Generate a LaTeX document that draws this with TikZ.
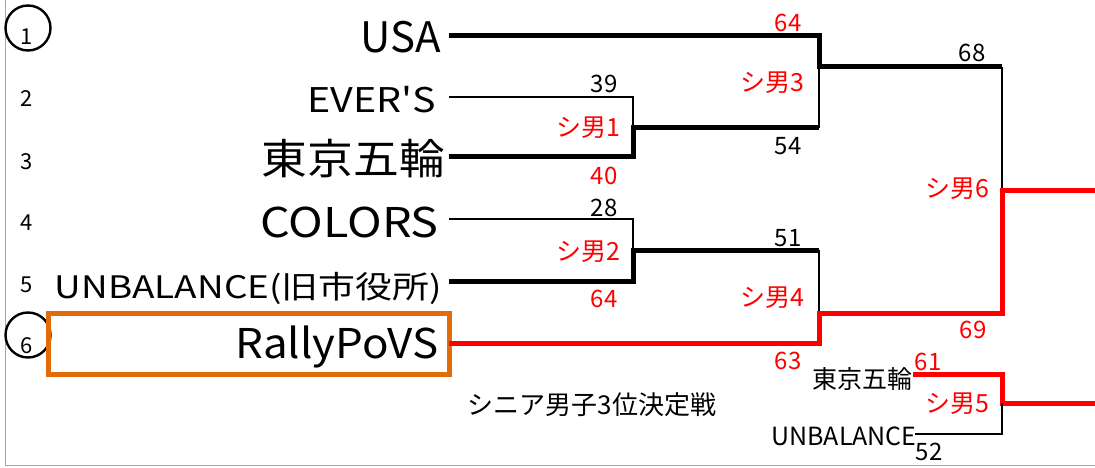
\documentclass[tikz,border=0pt]{standalone}
\usepackage{fontspec}
\usepackage{xcolor}
\usepackage{graphicx}
\usepackage{tikz}
\setmainfont{Noto Sans CJK JP}
\usetikzlibrary{positioning}
\definecolor{seedorange}{RGB}{226,108,10}
\newcommand{\fs}[1]{\fontsize{#1}{#1}\selectfont}
\newcommand{\widen}[2]{\scalebox{#1}[1]{#2}}

\begin{document}
\begin{tikzpicture}[x=1pt,y=-1pt,
    thinline/.style={draw=black,line width=1.3pt},
    thickline/.style={draw=black,line width=5pt},
    winline/.style={draw=red,line width=5pt}]
        \useasboundingbox (0,0) rectangle (1095,468);
        \draw[gray!70,line width=1pt] (5,0) -- (5,465) -- (1095,465);
        % seed numbers
        \begin{scope}[every node/.style={inner sep=0pt,anchor=base,font=\fs{22}}]
          \node (n1) at (27,45) {1};
          \node (n2) at (27,107) {2};
          \node (n3) at (27,170) {3};
          \node (n4) at (27,230) {4};
          \node (n5) at (27,292) {5};
          \node (n6) at (27,353) {6};
        \end{scope}
        \begin{scope}[every node/.style={draw,circle,line width=2.4pt,minimum size=45pt,inner sep=0pt}]
          \node (ring1) at (28,28) {};
          \node (ring6) at (28,335) {};
        \end{scope}
        % teams
        \begin{scope}[every node/.style={inner sep=0pt,anchor=base east}]
          \node[font=\fs{42}] (usa) at (441,53) {USA};
          \node[font=\fs{34}] (evers) at (436,113) {\widen{1.16}{EVER\textquotesingle S}};
          \node[font=\fs{42}] (tokyo) at (445,175) {\widen{1.09}{東京五輪}};
          \node[font=\fs{41}] (colors) at (439,237) {\widen{1.14}{COLORS}};
          \node[font=\fs{31}] (unbal) at (442,298) {\widen{1.19}{UNBALANCE(旧市役所)}};
          \node[font=\fs{41}] (rally) at (439,358) {\widen{1.07}{RallyPoVS}};
        \end{scope}
        \draw[seedorange,line width=5pt] (48,313) rectangle (449,374);
        % bracket points
        \coordinate (usa-o) at (449,36);
        \coordinate (evers-o) at (449,97);
        \coordinate (tokyo-o) at (449,157);
        \coordinate (colors-o) at (449,219);
        \coordinate (unbal-o) at (449,281);
        \coordinate (rally-o) at (449,343);
        \coordinate (m1) at (633,128);
        \coordinate (m2) at (633,250);
        \coordinate (m3) at (819,67);
        \coordinate (m4) at (819,313);
        \coordinate (m6) at (1002,190);
        \coordinate (m5) at (1002,403);
        \coordinate (w6) at (1095,190);
        \coordinate (w5) at (1095,403);
        \draw[thinline] (evers-o) -| (m1);
        \draw[thickline] (tokyo-o) -| (m1) -- (m1 -| m3);
        \draw[thinline] (m1 -| m3) -- (m3);
        \draw[thickline] (usa-o) -| (m3) -- (m3 -| m6);
        \draw[thinline] (m3 -| m6) -- (m6);
        \draw[thinline] (colors-o) -| (m2);
        \draw[thickline] (unbal-o) -| (m2) -- (m2 -| m4);
        \draw[thinline] (m2 -| m4) -- (m4);
        \draw[winline] (rally-o) -| (m4) -| (m6) -- (w6);
        % 3rd place
        \begin{scope}[every node/.style={inner sep=0pt,font=\fs{25}}]
          \node (tokyo5) at (862,379) {東京五輪};
          \node (unbal5) at (844,436) {UNBALANCE};
        \end{scope}
        \coordinate (tokyo5-o) at (913,374);
        \coordinate (unbal5-o) at (915,434);
        \draw[winline] (tokyo5-o) -| (m5) -- (w5);
        \draw[thinline] (unbal5-o) -| (m5);
        % scores and match labels
        \begin{scope}[every node/.style={inner sep=0pt,font=\fs{24}}]
          \node (s39) at (604,84) {39};
          \node[red] (s40) at (604,176) {40};
          \node (s28) at (604,208) {28};
          \node[red] (s64b) at (604,299) {64};
          \node[red] (s64a) at (788,23) {64};
          \node (s54) at (788,146) {54};
          \node (s51) at (788,238) {51};
          \node[red] (s63) at (788,361) {63};
          \node (s68) at (972,53) {68};
          \node[red] (s69) at (973,330) {69};
          \node[red] (s61) at (928,362) {61};
          \node (s52) at (929,452) {52};
        \end{scope}
        \begin{scope}[every node/.style={inner sep=0pt,font=\fs{25},text=red}]
          \node (g1) at (588,128) {シ男1};
          \node (g2) at (588,252) {シ男2};
          \node (g3) at (772,83) {シ男3};
          \node (g4) at (772,298) {シ男4};
          \node (g5) at (957,404) {シ男5};
          \node (g6) at (957,189) {シ男6};
        \end{scope}
        \node[inner sep=0pt,font=\fs{26}] (title) at (592,405) {シニア男子3位決定戦};
      \end{tikzpicture}
\end{document}
